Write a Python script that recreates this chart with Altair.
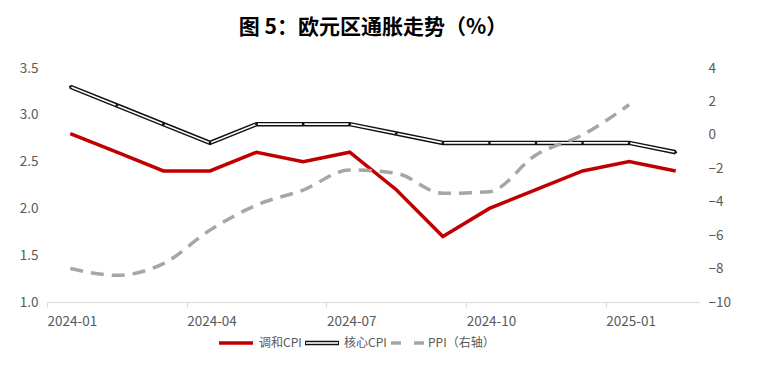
import altair as alt
import pandas as pd

months = ["2024-01", "2024-02", "2024-03", "2024-04", "2024-05", "2024-06", "2024-07",
          "2024-08", "2024-09", "2024-10", "2024-11", "2024-12", "2025-01", "2025-02"]
hicp = [2.8, 2.6, 2.4, 2.4, 2.6, 2.5, 2.6, 2.2, 1.7, 2.0, 2.2, 2.4, 2.5, 2.4]
core = [3.3, 3.1, 2.9, 2.7, 2.9, 2.9, 2.9, 2.8, 2.7, 2.7, 2.7, 2.7, 2.7, 2.6]
ppi_months = months[:13]
ppi = [-8.0, -8.4, -7.7, -5.7, -4.2, -3.3, -2.1, -2.3, -3.5, -3.4, -1.2, 0.0, 1.8]

tick_labels = ["2024-01", "2024-04", "2024-07", "2024-10", "2025-01"]
left_ticks = [1.0, 1.5, 2.0, 2.5, 3.0, 3.5]
right_ticks = [-10, -8, -6, -4, -2, 0, 2, 4]

legend_names = ["调和CPI", "核心CPI", "PPI（右轴）"]

W, H = 652, 234
RED = "#C00000"
GRAY = "#A6A6A6"
LABEL = "#595959"
FONT = "Noto Sans CJK SC"

cpi_df = pd.DataFrame({
    "pos": [months.index(m) + 0.5 for m in months],
    "hicp": hicp,
    "core": core,
})
ppi_df = pd.DataFrame({
    "pos": [months.index(m) + 0.5 for m in ppi_months],
    "ppi": ppi,
})

tick_pos = [months.index(m) for m in tick_labels]
label_expr = "{" + ",".join(f"'{p}':'{l}'" for p, l in zip(tick_pos, tick_labels)) + "}[datum.value]"

x_enc = alt.X(
    "pos:Q",
    scale=alt.Scale(domain=[0, len(months)], nice=False, zero=False),
    axis=alt.Axis(values=tick_pos, labelExpr=label_expr, title=None, grid=False,
                  domainColor="#D9D9D9", tickColor="#D9D9D9", tickSize=5,
                  labelAlign="left", labelPadding=7, labelColor=LABEL,
                  labelFont=FONT, labelFontSize=13.5),
)

yl_scale = alt.Scale(domain=[1.0, 3.5], nice=False, zero=False)
yl_axis = alt.Axis(orient="left", values=left_ticks, format=".1f", title=None, grid=False,
                   domain=False, ticks=False, labelPadding=9, labelColor=LABEL,
                   labelFont=FONT, labelFontSize=13.5)

base = alt.Chart(cpi_df)
red = base.mark_line(color=RED, strokeWidth=3.5).encode(
    x=x_enc, y=alt.Y("hicp:Q", scale=yl_scale, axis=yl_axis))
core_outer = base.mark_line(color="#111111", strokeWidth=4.5).encode(
    x=x_enc, y=alt.Y("core:Q", scale=yl_scale, axis=yl_axis))
core_inner = base.mark_line(color="white", strokeWidth=1.6).encode(
    x=x_enc, y=alt.Y("core:Q", scale=yl_scale, axis=yl_axis))
core_dots = base.mark_point(color="#111111", filled=True, size=7, opacity=1).encode(
    x=x_enc, y=alt.Y("core:Q", scale=yl_scale, axis=yl_axis))

left = alt.layer(red, core_outer, core_inner, core_dots)

ppi_line = alt.Chart(ppi_df).mark_line(
    color=GRAY, strokeWidth=3.5, strokeDash=[13, 8], interpolate="monotone"
).encode(
    x=x_enc,
    y=alt.Y("ppi:Q", scale=alt.Scale(domain=[-10, 4], nice=False, zero=False),
            axis=alt.Axis(orient="right", values=right_ticks, title=None, grid=False,
                          domain=False, ticks=False, labelPadding=9, labelColor=LABEL,
                          labelFont=FONT, labelFontSize=13.5)),
)

# manual legend below the x axis
one = pd.DataFrame({"a": [0]})
LY = 275
leg = []
leg.append(alt.Chart(one).mark_rule(color=RED, strokeWidth=3.5).encode(
    x=alt.value(172), x2=alt.value(206), y=alt.value(LY)))
leg.append(alt.Chart(one).mark_rule(color="#111111", strokeWidth=4.5).encode(
    x=alt.value(258), x2=alt.value(292), y=alt.value(LY)))
leg.append(alt.Chart(one).mark_rule(color="white", strokeWidth=1.6).encode(
    x=alt.value(259), x2=alt.value(291), y=alt.value(LY)))
leg.append(alt.Chart(one).mark_rule(color=GRAY, strokeWidth=3.5, strokeDash=[10, 13]).encode(
    x=alt.value(344), x2=alt.value(378), y=alt.value(LY)))
for xpos, name in zip([212, 297, 381], legend_names):
    leg.append(alt.Chart(one).mark_text(align="left", baseline="middle", font=FONT,
                                        fontSize=12, color=LABEL).encode(
        x=alt.value(xpos), y=alt.value(LY), text=alt.value(name)))

chart = alt.layer(left, ppi_line, *leg).resolve_scale(y="independent").properties(
    width=W, height=H,
    padding={"left": 11, "top": 9, "right": 5, "bottom": 5},
    title=alt.TitleParams("图 5：欧元区通胀走势（%）", font=FONT, fontSize=21,
                          fontWeight="bold", color="black", anchor="middle", offset=23),
).configure_view(stroke=None)

chart.save("out.html", embed_options={"renderer": "svg", "actions": False})
